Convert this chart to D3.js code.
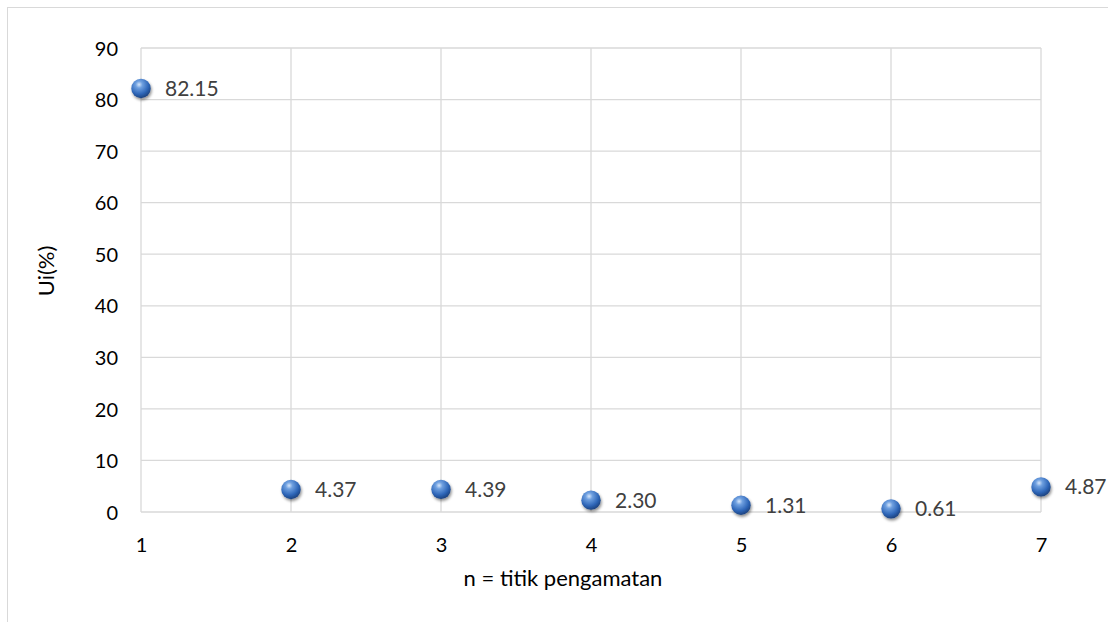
<!DOCTYPE html>
<html><head><meta charset="utf-8">
<script src="https://cdn.jsdelivr.net/npm/d3@7"></script>
<style>body{margin:0;background:#fff;} svg{display:block;font-family:Lato,"Open Sans",sans-serif;}</style>
</head><body>
<svg id="c" width="1108" height="622"></svg>
<script>
const xValues = [1, 2, 3, 4, 5, 6, 7];
const yValues = [82.15, 4.37, 4.39, 2.30, 1.31, 0.61, 4.87];
const yTicks = [0, 10, 20, 30, 40, 50, 60, 70, 80, 90];
const xTicks = [1, 2, 3, 4, 5, 6, 7];
const xTitle = "n = titik pengamatan";
const yTitle = "Ui(%)";

const FONT = "Lato,'Open Sans',sans-serif";
const svg = d3.select("#c");
const defs = svg.append("defs");
const rg = defs.append("radialGradient").attr("id","ball").attr("cx","40%").attr("cy","30%").attr("r","70%");
rg.append("stop").attr("offset","0%").attr("stop-color","#d6e6fb");
rg.append("stop").attr("offset","25%").attr("stop-color","#6fa0e0");
rg.append("stop").attr("offset","70%").attr("stop-color","#2e66b8");
rg.append("stop").attr("offset","100%").attr("stop-color","#1d4380");
const f = defs.append("filter").attr("id","sh").attr("x","-50%").attr("y","-50%").attr("width","200%").attr("height","200%");
f.append("feGaussianBlur").attr("in","SourceAlpha").attr("stdDeviation","1.5");
f.append("feOffset").attr("dx","0.5").attr("dy","2").attr("result","ob");
f.append("feComponentTransfer").append("feFuncA").attr("type","linear").attr("slope","0.45");
const fm = f.append("feMerge"); fm.append("feMergeNode"); fm.append("feMergeNode").attr("in","SourceGraphic");

// chart border
svg.append("rect").attr("x",7.5).attr("y",7.5).attr("width",1120).attr("height",640)
  .attr("fill","none").attr("stroke","#d9d9d9");

const x = d3.scaleLinear().domain([1,7]).range([141,1041]);
const y = d3.scaleLinear().domain([0,90]).range([512,48]);

const grid = svg.append("g").attr("stroke","#d9d9d9").attr("stroke-width",1.3);
yTicks.forEach(t => grid.append("line").attr("x1",x(1)).attr("x2",x(7)).attr("y1",y(t)).attr("y2",y(t)));
xTicks.forEach(t => grid.append("line").attr("x1",x(t)).attr("x2",x(t)).attr("y1",y(0)).attr("y2",y(90)));

const yAxis = svg.append("g").attr("transform",`translate(${x(1)},0)`)
  .call(d3.axisLeft(y).tickValues(yTicks).tickSize(0).tickPadding(23));
yAxis.select(".domain").remove();
yAxis.selectAll("text").attr("font-size",20).attr("fill","#000").attr("font-family",FONT).attr("dy","0.36em");

const xAxis = svg.append("g").attr("transform",`translate(0,${y(0)})`)
  .call(d3.axisBottom(x).tickValues(xTicks).tickSize(0).tickPadding(26).tickFormat(d3.format("d")));
xAxis.select(".domain").remove();
xAxis.selectAll("text").attr("font-size",20).attr("fill","#000").attr("font-family",FONT).attr("dy","0.71em");

svg.append("text").attr("x",563).attr("y",586).attr("text-anchor","middle").attr("font-size",22).attr("fill","#000").text(xTitle);
svg.append("text").attr("transform","translate(54,271) rotate(-90)").attr("text-anchor","middle").attr("font-size",22).attr("fill","#000").text(yTitle);

const pts = xValues.map((v,i)=>({x:v,y:yValues[i]}));
svg.append("g").selectAll("circle").data(pts).join("circle")
  .attr("cx",d=>x(d.x)).attr("cy",d=>y(d.y)).attr("r",9.7)
  .attr("fill","url(#ball)").attr("filter","url(#sh)");
svg.append("g").selectAll("text").data(pts).join("text")
  .attr("x",d=>x(d.x)+24).attr("y",d=>y(d.y)+7.5)
  .attr("font-size",21).attr("fill","#404040").text(d=>d.y.toFixed(2));
</script>
</body></html>
